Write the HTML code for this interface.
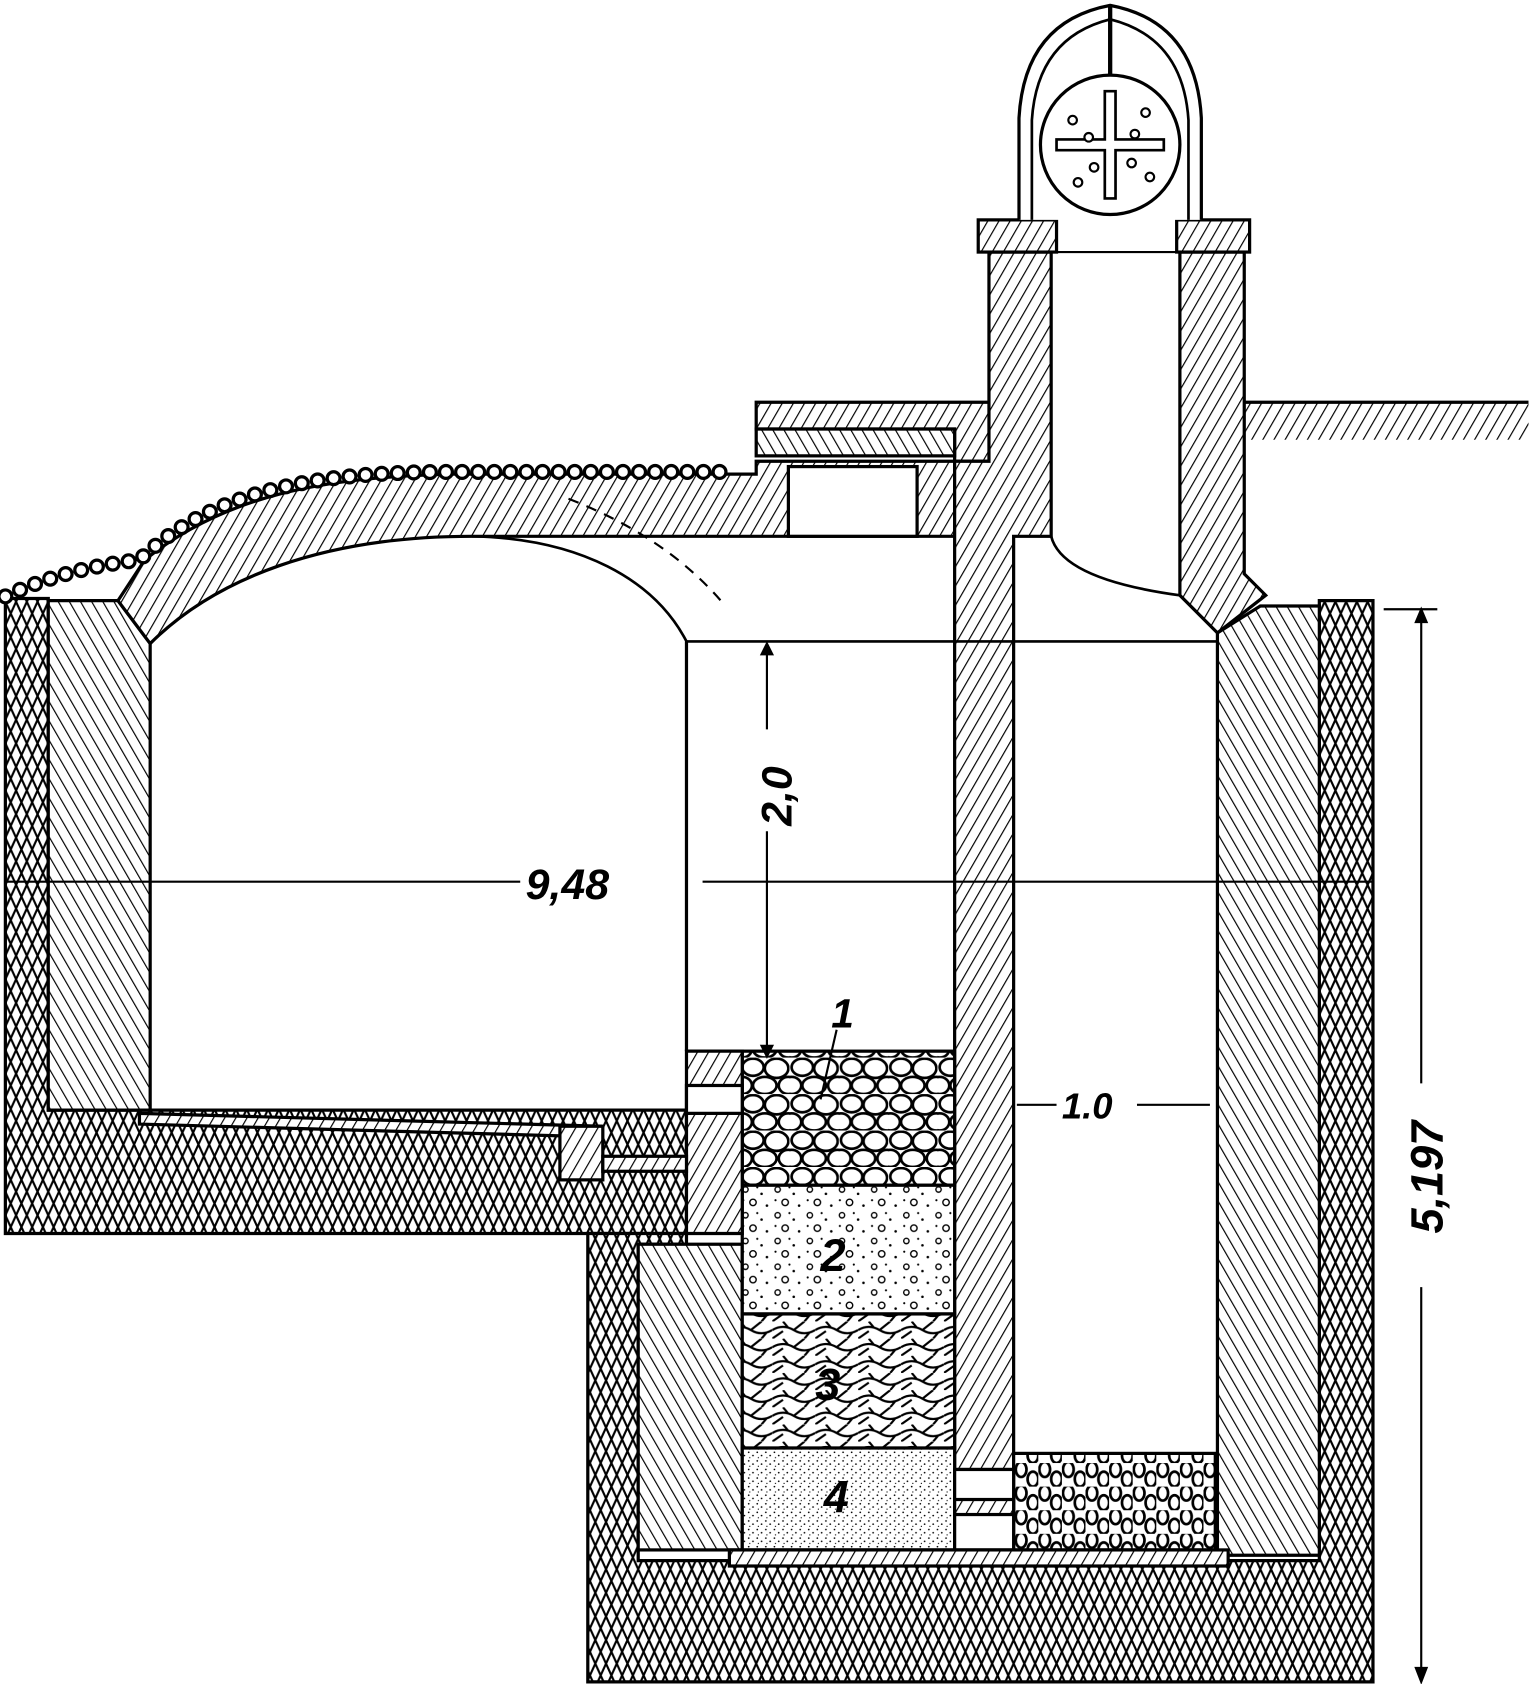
<!DOCTYPE html>
<html><head><style>html,body{margin:0;padding:0;background:#fff}svg{display:block}</style></head>
<body>
<svg width="1536" height="1684" viewBox="0 0 1432 1570" preserveAspectRatio="none" xmlns="http://www.w3.org/2000/svg">
<defs>
<pattern id="cx" width="10" height="22" patternUnits="userSpaceOnUse">
<rect width="10" height="22" fill="#fff"/>
<path d="M0,0 L10,22 M10,0 L0,22 M-5,11 L0,22 M15,11 L10,0 M0,0 L-5,11 M10,22 L15,11" stroke="#000" stroke-width="2"/>
</pattern>
<pattern id="bs" width="9" height="9" patternUnits="userSpaceOnUse" patternTransform="rotate(-30)">
<rect width="9" height="9" fill="#fff"/><line x1="0" y1="0" x2="0" y2="9" stroke="#000" stroke-width="2.2"/>
</pattern>
<pattern id="fs" width="9" height="9" patternUnits="userSpaceOnUse" patternTransform="rotate(30)">
<rect width="9" height="9" fill="#fff"/><line x1="0" y1="0" x2="0" y2="9" stroke="#000" stroke-width="2.2"/>
</pattern>
<pattern id="st" width="46" height="34" patternUnits="userSpaceOnUse">
<rect width="46" height="34" fill="#fff"/>
<ellipse cx="12" cy="9" rx="10" ry="8" fill="none" stroke="#000" stroke-width="2.5"/>
<ellipse cx="34" cy="10" rx="11" ry="9" fill="none" stroke="#000" stroke-width="2.5"/>
<ellipse cx="23" cy="26" rx="11" ry="8" fill="none" stroke="#000" stroke-width="2.5"/>
<ellipse cx="2" cy="26" rx="9" ry="8" fill="none" stroke="#000" stroke-width="2.5"/>
<ellipse cx="45" cy="26" rx="9" ry="8" fill="none" stroke="#000" stroke-width="2.5"/>
</pattern>
<pattern id="sm" width="22" height="22" patternUnits="userSpaceOnUse">
<rect width="22" height="22" fill="#fff"/>
<ellipse cx="6" cy="6" rx="5" ry="7" fill="none" stroke="#000" stroke-width="2.5"/>
<ellipse cx="17" cy="15" rx="5" ry="7" fill="none" stroke="#000" stroke-width="2.5"/>
</pattern>
<pattern id="dt" width="30" height="24" patternUnits="userSpaceOnUse">
<rect width="30" height="24" fill="#fff"/>
<circle cx="5" cy="5" r="2.5" fill="none" stroke="#000" stroke-width="1.3"/>
<circle cx="20" cy="9" r="1.2" fill="#000"/><circle cx="12" cy="17" r="3" fill="none" stroke="#000" stroke-width="1.3"/>
<circle cx="25" cy="20" r="1.2" fill="#000"/><circle cx="3" cy="15" r="1" fill="#000"/><circle cx="16" cy="3" r="1" fill="#000"/>
</pattern>
<pattern id="fl" width="40" height="16" patternUnits="userSpaceOnUse">
<rect width="40" height="16" fill="#fff"/>
<path d="M0,8 Q10,2 20,8 Q30,14 40,8 M0,16 L10,9 M20,8 L30,0 M10,0 L15,6 M30,16 L35,10" fill="none" stroke="#000" stroke-width="2"/>
</pattern>
<pattern id="sd" width="8" height="8" patternUnits="userSpaceOnUse">
<rect width="8" height="8" fill="#fff"/><circle cx="2" cy="2" r=".8" fill="#000"/><circle cx="6" cy="5" r=".8" fill="#000"/><circle cx="3" cy="7" r=".6" fill="#000"/>
</pattern>
</defs>
<g stroke="#000" stroke-width="3">
<path d="M5,558 L45,558 L45,1035 L640,1035 L640,1150 L5,1150 Z" fill="url(#cx)"/>
<path d="M548,1150 L640,1150 L640,1160 L595,1160 L595,1455 L1230,1455 L1230,560 L1280,560 L1280,1568 L548,1568 Z" fill="url(#cx)"/>
<path d="M45,560 L110,560 L140,600 L140,1035 L45,1035 Z" fill="url(#bs)"/>
<path d="M1135,590 L1175,565 L1230,565 L1230,1450 L1135,1450 Z" fill="url(#bs)"/>
<rect x="595" y="1160" width="97" height="285" fill="url(#bs)"/>
<!-- vault + roof slab -->
<path d="M110,560 L135,522 C210,462 300,445 420,442 L705,442 L705,430 L890,430 L890,500 L440,500 C300,500 200,540 140,600 Z" fill="url(#fs)"/>
<path d="M440,500 C540,502 610,540 640,598" fill="none" stroke-width="2.5"/>
<path d="M5,556 Q60,530 130,522 C200,455 300,440 420,440 L672,440" fill="none" stroke="#000" stroke-width="15" stroke-dasharray="0,15" stroke-linecap="round"/>
<path d="M5,556 Q60,530 130,522 C200,455 300,440 420,440 L672,440" fill="none" stroke="#fff" stroke-width="9" stroke-dasharray="0,15" stroke-linecap="round"/>
<path d="M530,465 Q620,500 672,560" fill="none" stroke-width="2" stroke-dasharray="10,8"/>
<path d="M705,375 L925,375 L925,430 L890,430 L890,400 L705,400 Z" fill="url(#fs)"/>
<rect x="705" y="400" width="185" height="25" fill="url(#bs)"/>
<rect x="735" y="435" width="120" height="65" fill="#fff"/>
<path d="M1160,375 L1425,375 L1425,410 L1160,410 Z" fill="url(#fs)" stroke="none"/>
<line x1="1160" y1="375" x2="1425" y2="375"/>
<path d="M922,235 L980,235 L980,500 L945,500 L945,1370 L890,1370 L890,430 L922,430 Z" fill="url(#fs)"/>
<path d="M1100,235 L1160,235 L1160,535 L1180,555 L1135,590 L1100,555 Z" fill="url(#fs)"/>
<path d="M945,500 L980,500 Q990,540 1100,555" fill="none" stroke-width="2.5"/>
<line x1="640" y1="598" x2="1135" y2="598" stroke-width="2.5"/>
<rect x="912" y="205" width="73" height="30" fill="url(#fs)"/>
<rect x="1097" y="205" width="68" height="30" fill="url(#fs)"/>
<line x1="985" y1="235" x2="1097" y2="235" stroke-width="2"/>
<path d="M950,205 L950,110 Q955,20 1035,5 Q1115,20 1120,110 L1120,205" fill="#fff" stroke-width="3"/>
<path d="M962,205 L962,112 Q967,35 1035,18 Q1103,35 1108,112 L1108,205" fill="none" stroke-width="2.5"/>
<path d="M1035,5 L1035,75" stroke-width="4"/>
<circle cx="1035" cy="135" r="65" fill="#fff"/>
<path d="M1030,85 L1040,85 L1040,130 L1085,130 L1085,140 L1040,140 L1040,185 L1030,185 L1030,140 L985,140 L985,130 L1030,130 Z" fill="#fff" stroke-width="2.5"/>
<g stroke-width="2" fill="#fff"><circle cx="1015" cy="128" r="4"/><circle cx="1058" cy="125" r="4"/><circle cx="1020" cy="156" r="4"/><circle cx="1055" cy="152" r="4"/><circle cx="1000" cy="112" r="4"/><circle cx="1072" cy="165" r="4"/><circle cx="1068" cy="105" r="4"/><circle cx="1005" cy="170" r="4"/></g>
<rect x="692" y="980" width="198" height="125" fill="url(#st)"/>
<rect x="692" y="1105" width="198" height="120" fill="url(#dt)"/>
<rect x="692" y="1225" width="198" height="125" fill="url(#fl)"/>
<rect x="692" y="1350" width="198" height="95" fill="url(#sd)"/>
<rect x="945" y="1355" width="188" height="90" fill="url(#sm)"/>
<rect x="890" y="1370" width="55" height="75" fill="#fff"/>
<rect x="890" y="1398" width="55" height="14" fill="url(#fs)"/>
<rect x="680" y="1445" width="465" height="15" fill="url(#fs)"/>
<path d="M640,980 L692,980 L692,1150 L640,1150 Z" fill="url(#fs)"/>
<rect x="640" y="1012" width="52" height="26" fill="#fff"/>
<path d="M130,1038 L560,1050 L560,1060 L130,1048 Z" fill="url(#fs)"/>
<rect x="522" y="1050" width="40" height="50" fill="url(#fs)"/>
<rect x="562" y="1078" width="78" height="14" fill="url(#fs)"/>
<line x1="640" y1="598" x2="640" y2="980"/>
</g>
<g stroke="#000" stroke-width="2" fill="#000">
<line x1="5" y1="822" x2="485" y2="822"/><line x1="655" y1="822" x2="1280" y2="822"/>
<line x1="715" y1="600" x2="715" y2="680"/><line x1="715" y1="775" x2="715" y2="975"/>
<path d="M710,975 L720,975 L715,985Z"/><path d="M710,610 L720,610 L715,600Z"/>
<line x1="948" y1="1030" x2="985" y2="1030"/><line x1="1060" y1="1030" x2="1128" y2="1030"/>
<line x1="1325" y1="570" x2="1325" y2="1010"/><line x1="1325" y1="1200" x2="1325" y2="1565"/>
<path d="M1320,1555 L1330,1555 L1325,1568Z"/><path d="M1320,580 L1330,580 L1325,568Z"/>
<line x1="1290" y1="568" x2="1340" y2="568"/>
<line x1="780" y1="960" x2="765" y2="1025"/>
</g>
<g font-family="Liberation Sans, sans-serif" font-style="italic" font-weight="bold" fill="#000">
<text x="490" y="838" font-size="40">9,48</text>
<text x="738" y="770" font-size="40" transform="rotate(-90 738 770)">2,0</text>
<text x="990" y="1043" font-size="34">1.0</text>
<text x="1345" y="1150" font-size="42" transform="rotate(-90 1345 1150)">5,197</text>
<text x="775" y="958" font-size="38">1</text>
<text x="765" y="1185" font-size="42">2</text>
<text x="760" y="1305" font-size="42">3</text>
<text x="768" y="1410" font-size="42">4</text>
</g>
</svg>
</body></html>
